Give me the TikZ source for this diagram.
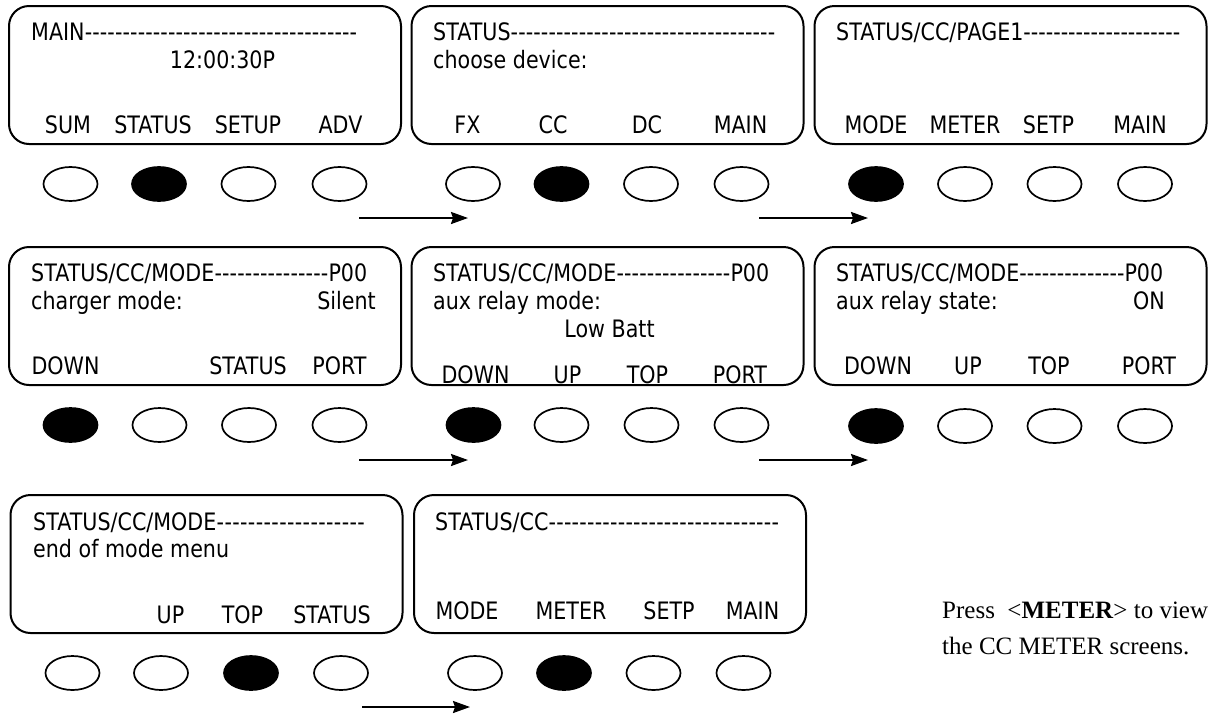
\documentclass[tikz,border=0pt]{standalone}
\usepackage{fontspec}
\usetikzlibrary{shapes.geometric,arrows.meta}
\newfontfamily\lcdfont[FakeStretch=0.86]{DejaVu Sans}
\newfontfamily\notefont{Liberation Serif}
\newcommand{\dashline}[2]{\hbox to #1pt{#2}}
\begin{document}
\begin{tikzpicture}[x=1pt,y=-1pt,
  screen/.style={draw,line width=2pt,rounded corners=20pt,minimum width=392pt,minimum height=138pt,inner sep=0pt},
  btn/.style={draw,line width=1.7pt,ellipse,minimum width=54pt,minimum height=34pt,inner sep=0pt},
  btnon/.style={btn,fill=black},
  lcd/.style={font=\lcdfont\fontsize{24}{28}\selectfont,inner sep=0pt},
  lt/.style={lcd,anchor=base west},
  rt/.style={lcd,anchor=base east},
  ct/.style={lcd,anchor=base},
  arr/.style={line width=2.2pt,-{Stealth[length=17pt,width=12pt,inset=2pt]}},
  note/.style={font=\notefont\fontsize{25}{30}\selectfont,inner sep=0pt,anchor=base west}]
\useasboundingbox (0,0) rectangle (1213,713);

% ---------- Row 1 ----------
\node[screen] (s11) at (205,75) {};
\node[screen] (s12) at (607.5,75) {};
\node[screen] (s13) at (1010.5,75) {};

\node[lt] (t11) at (31,40) {\dashline{326}{MAIN\xleaders\hbox{-}\hfill}};
\node[ct] (l11) at (222.5,68) {12:00:30P};
\node[ct] (k111) at (68,133) {SUM};
\node[ct] (k112) at (153,133) {STATUS};
\node[ct] (k113) at (248,133) {SETUP};
\node[ct] (k114) at (340.5,133) {ADV};

\node[lt] (t12) at (433,40) {\dashline{342}{STATUS\xleaders\hbox{-}\hfill}};
\node[lt] (l12) at (433,68) {choose device:};
\node[ct] (k121) at (467.5,133) {FX};
\node[ct] (k122) at (553,133) {CC};
\node[ct] (k123) at (647,133) {DC};
\node[ct] (k124) at (740.5,133) {MAIN};

\node[lt] (t13) at (836,40) {\dashline{344}{STATUS/CC/PAGE1\xleaders\hbox{-}\hfill}};
\node[ct] (k131) at (876,133) {MODE};
\node[ct] (k132) at (965,133) {METER};
\node[ct] (k133) at (1048.5,133) {SETP};
\node[ct] (k134) at (1140,133) {MAIN};

\node[btn]   (b111) at (70.5,184) {};
\node[btnon] (b112) at (159,184) {};
\node[btn]   (b113) at (248.5,184) {};
\node[btn]   (b114) at (339.5,184) {};
\node[btn]   (b121) at (473,184) {};
\node[btnon] (b122) at (561.5,184) {};
\node[btn]   (b123) at (651,184) {};
\node[btn]   (b124) at (741.5,184) {};
\node[btnon] (b131) at (876,184) {};
\node[btn]   (b132) at (965,184) {};
\node[btn]   (b133) at (1054.5,184) {};
\node[btn]   (b134) at (1145,184) {};

\coordinate (a1s) at (359,218);
\coordinate (a1e) at (468,218);
\coordinate (a2s) at (759,218);
\coordinate (a2e) at (868,218);
\draw[arr] (a1s) -- (a1e);
\draw[arr] (a2s) -- (a2e);

% ---------- Row 2 ----------
\node[screen] (s21) at (205,316) {};
\node[screen] (s22) at (607.5,316) {};
\node[screen] (s23) at (1010.5,316) {};

\node[lt] (t21) at (31,281) {\dashline{336}{STATUS/CC/MODE\xleaders\hbox{-}\hfill P00}};
\node[lt] (l21) at (31,309) {charger mode:};
\node[rt] (v21) at (376,309) {Silent};
\node[ct] (k211) at (65.5,374) {DOWN};
\node[ct] (k213) at (248,374) {STATUS};
\node[ct] (k214) at (339.5,374) {PORT};

\node[lt] (t22) at (433,281) {\dashline{336}{STATUS/CC/MODE\xleaders\hbox{-}\hfill P00}};
\node[lt] (l22) at (433,309) {aux relay mode:};
\node[ct] (v22) at (609.5,337) {Low Batt};
\node[ct] (k221) at (475.5,383) {DOWN};
\node[ct] (k222) at (567.5,383) {UP};
\node[ct] (k223) at (647.5,383) {TOP};
\node[ct] (k224) at (740,383) {PORT};

\node[lt] (t23) at (836,281) {\dashline{327}{STATUS/CC/MODE\xleaders\hbox{-}\hfill P00}};
\node[lt] (l23) at (836,309) {aux relay state:};
\node[rt] (v23) at (1165,309) {ON};
\node[ct] (k231) at (878,374) {DOWN};
\node[ct] (k232) at (968,374) {UP};
\node[ct] (k233) at (1049,374) {TOP};
\node[ct] (k234) at (1149,374) {PORT};

\node[btnon] (b211) at (70.5,425) {};
\node[btn]   (b212) at (159.5,425) {};
\node[btn]   (b213) at (249,425) {};
\node[btn]   (b214) at (339.5,425) {};
\node[btnon] (b221) at (473.5,425) {};
\node[btn]   (b222) at (561.5,425) {};
\node[btn]   (b223) at (651.5,425) {};
\node[btn]   (b224) at (741.5,425) {};
\node[btnon] (b231) at (876,426) {};
\node[btn]   (b232) at (965,426) {};
\node[btn]   (b233) at (1054.5,426) {};
\node[btn]   (b234) at (1145,426) {};

\coordinate (a3s) at (359,460);
\coordinate (a3e) at (468,460);
\coordinate (a4s) at (759,460);
\coordinate (a4e) at (868,460);
\draw[arr] (a3s) -- (a3e);
\draw[arr] (a4s) -- (a4e);

% ---------- Row 3 ----------
\node[screen] (s31) at (206.5,564) {};
\node[screen] (s32) at (610,564) {};

\node[lt] (t31) at (33,530) {\dashline{332}{STATUS/CC/MODE\xleaders\hbox{-}\hfill}};
\node[lt] (l31) at (33,557) {end of mode menu};
\node[ct] (k312) at (170.5,623) {UP};
\node[ct] (k313) at (242.5,623) {TOP};
\node[ct] (k314) at (332,623) {STATUS};

\node[lt] (t32) at (435,530) {\dashline{344}{STATUS/CC\xleaders\hbox{-}\hfill}};
\node[ct] (k321) at (467,619) {MODE};
\node[ct] (k322) at (571,619) {METER};
\node[ct] (k323) at (669,619) {SETP};
\node[ct] (k324) at (752.5,619) {MAIN};

\node[btn]   (b311) at (72.5,673) {};
\node[btn]   (b312) at (161,673) {};
\node[btnon] (b313) at (251,673) {};
\node[btn]   (b314) at (341,673) {};
\node[btn]   (b321) at (475,673) {};
\node[btnon] (b322) at (564,673) {};
\node[btn]   (b323) at (653.5,673) {};
\node[btn]   (b324) at (743.5,673) {};

\coordinate (a5s) at (362,707);
\coordinate (a5e) at (470,707);
\draw[arr] (a5s) -- (a5e);

% ---------- Note ----------
\node[note] (n1) at (942,618) {Press\ \ <\textbf{METER}> to view};
\node[note] (n2) at (942,654) {the CC METER screens.};
\end{tikzpicture}
\end{document}
